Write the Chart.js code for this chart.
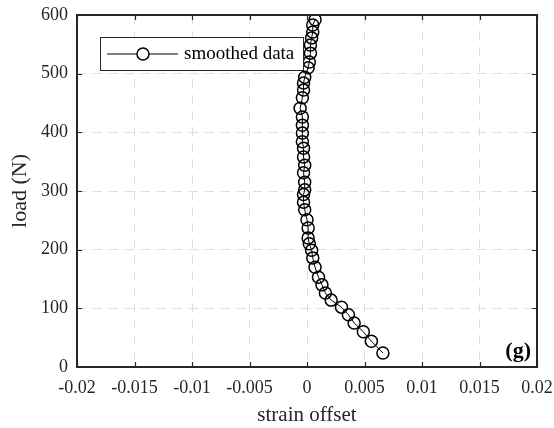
<!DOCTYPE html>
<html>
<head>
<meta charset="utf-8">
<script src="https://cdn.jsdelivr.net/npm/chart.js@4"></script>
<style>
html,body{margin:0;padding:0;background:#fff;}
#wrap{width:554px;height:428px;position:relative;}
</style>
</head>
<body>
<div id="wrap"><canvas id="c" width="554" height="428"></canvas></div>
<script>
// data
const loadN = [24,44,60,75,89,102,114,126,140,153,170,186,199,210,220,237,251,268,281,294,302,315,331,344,358,373,384,399,412,426,441,459,472,484,494,510,520,535,549,561,571,583,592];
const strainOffset = [0.0066,0.0056,0.0049,0.0041,0.0036,0.0030,0.0021,0.0016,0.0013,0.0010,0.0007,0.0005,0.0004,0.0002,0.0001,0.0001,0.0000,-0.0002,-0.0003,-0.0003,-0.0002,-0.0002,-0.0003,-0.0002,-0.0003,-0.0003,-0.0004,-0.0004,-0.0004,-0.0004,-0.0006,-0.0004,-0.0003,-0.0003,-0.0002,0.0001,0.0002,0.0003,0.0003,0.0004,0.0005,0.0005,0.0007];
const xTicks = [-0.02,-0.015,-0.01,-0.005,0,0.005,0.01,0.015,0.02];
const yTicks = [0,100,200,300,400,500,600];
const seriesLabel = 'smoothed data';
const panelLabel = '(g)';
const xTitle = 'strain offset';
const yTitle = 'load (N)';

const FONT = "'Liberation Serif', 'Times New Roman', serif";

const framePlugin = {
  id: 'frame',
  afterDatasetsDraw(chart) {
    const {ctx, chartArea: a, scales} = chart;
    ctx.save();
    ctx.strokeStyle = '#262626';
    ctx.lineWidth = 1.2;
    ctx.setLineDash([]);
    const tl = 5;
    xTicks.forEach(v => {
      const px = Math.round(scales.x.getPixelForValue(v)) + 0.5;
      ctx.beginPath();
      ctx.moveTo(px, a.bottom); ctx.lineTo(px, a.bottom - tl);
      ctx.moveTo(px, a.top); ctx.lineTo(px, a.top + tl);
      ctx.stroke();
    });
    yTicks.forEach(v => {
      const py = Math.round(scales.y.getPixelForValue(v)) + 0.5;
      ctx.beginPath();
      ctx.moveTo(a.left, py); ctx.lineTo(a.left + tl, py);
      ctx.moveTo(a.right, py); ctx.lineTo(a.right - tl, py);
      ctx.stroke();
    });
    ctx.lineWidth = 2;
    ctx.strokeRect(a.left, a.top, a.right - a.left, a.bottom - a.top);

    // legend box
    const bx = 100, by = 37, bw = 203, bh = 33;
    ctx.fillStyle = '#fff';
    ctx.fillRect(bx, by, bw, bh);
    ctx.lineWidth = 1;
    ctx.strokeStyle = '#262626';
    ctx.strokeRect(bx + 0.5, by + 0.5, bw, bh);
    const my = by + bh / 2 + 0.5;
    ctx.strokeStyle = '#000';
    ctx.beginPath();
    ctx.moveTo(107, my); ctx.lineTo(178, my);
    ctx.stroke();
    ctx.lineWidth = 1.5;
    ctx.fillStyle = '#fff';
    ctx.beginPath();
    ctx.arc(143, my, 6, 0, Math.PI * 2);
    ctx.fill();
    ctx.stroke();
    ctx.fillStyle = '#000';
    ctx.font = '19px ' + FONT;
    ctx.textBaseline = 'middle';
    ctx.textAlign = 'left';
    ctx.fillText(seriesLabel, 184, my);

    // panel label
    ctx.font = 'bold 22px ' + FONT;
    ctx.textAlign = 'right';
    ctx.textBaseline = 'alphabetic';
    ctx.fillText(panelLabel, a.right - 6, a.bottom - 10);
    ctx.restore();
  }
};

new Chart(document.getElementById('c'), {
  type: 'scatter',
  data: {
    datasets: [{
      label: seriesLabel,
      data: loadN.map((y, i) => ({x: strainOffset[i], y})),
      showLine: true,
      borderColor: '#000',
      borderWidth: 1,
      pointRadius: 6,
      pointBorderWidth: 1.5,
      pointBorderColor: '#000',
      pointBackgroundColor: 'rgba(0,0,0,0)',
      pointHoverRadius: 6,
      tension: 0
    }]
  },
  options: {
    responsive: false,
    animation: false,
    events: [],
    layout: {padding: {left: 0, right: 17, top: 15, bottom: 0}},
    plugins: {legend: {display: false}, tooltip: {enabled: false}},
    scales: {
      x: {
        type: 'linear', min: -0.02, max: 0.02,
        afterBuildTicks: s => { s.ticks = xTicks.map(v => ({value: v})); },
        afterFit: s => { s.height = 61; s.paddingLeft = 0; s.paddingRight = 0; s.paddingTop = 0; s.paddingBottom = 0; },
        ticks: {
          color: '#262626', font: {family: FONT, size: 18}, padding: 10,
          maxRotation: 0, autoSkip: false,
          callback: v => String(parseFloat(Number(v).toFixed(3)))
        },
        grid: {color: '#dedede', lineWidth: 1, drawTicks: false},
        border: {display: false, dash: [9, 7]},
        title: {display: true, text: xTitle, color: '#262626', font: {family: FONT, size: 21}, padding: {top: 2, bottom: 0}}
      },
      y: {
        type: 'linear', min: 0, max: 600,
        afterBuildTicks: s => { s.ticks = yTicks.map(v => ({value: v})); },
        afterFit: s => { s.width = 77; s.paddingLeft = 0; s.paddingRight = 0; s.paddingTop = 0; s.paddingBottom = 0; },
        ticks: {
          color: '#262626', font: {family: FONT, size: 18}, padding: 9,
          autoSkip: false
        },
        grid: {color: '#dedede', lineWidth: 1, drawTicks: false},
        border: {display: false, dash: [9, 7]},
        title: {display: true, text: yTitle, color: '#262626', font: {family: FONT, size: 22}, padding: {top: 7, bottom: 0}}
      }
    }
  },
  plugins: [framePlugin]
});
</script>
</body>
</html>
